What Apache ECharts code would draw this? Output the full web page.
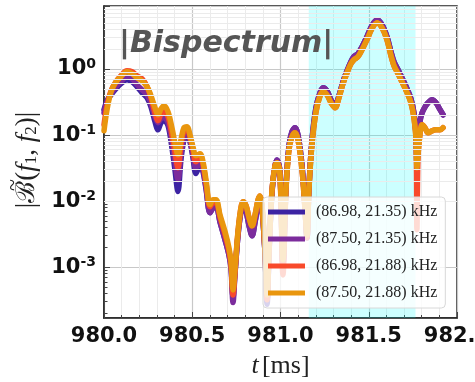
<!DOCTYPE html>
<html><head><meta charset="utf-8">
<script src="https://cdn.jsdelivr.net/npm/echarts@6/dist/echarts.min.js"></script>
<style>html,body{margin:0;padding:0;background:#fff}#c{width:475px;height:382px}</style>
</head><body><div id="c"></div>
<script>
// time axis samples [ms]
const times = [
 980.000, 980.017, 980.040, 980.068, 980.096, 980.130, 980.159, 980.187, 980.215, 980.244,
 980.266, 980.289, 980.306, 980.323, 980.340, 980.363, 980.385, 980.402, 980.419, 980.436,
 980.453, 980.470, 980.487, 980.504, 980.521, 980.544, 980.561, 980.578, 980.601, 980.618,
 980.635, 980.657, 980.686, 980.708, 980.720, 980.731, 980.742, 980.759, 980.776, 980.788,
 980.805, 980.822, 980.839, 980.856, 980.873, 980.884, 980.895, 980.912, 980.924, 980.935,
 980.952, 980.969, 980.980, 980.997, 981.014, 981.031, 981.048, 981.065, 981.082, 981.099,
 981.122, 981.139, 981.150, 981.161, 981.178, 981.201, 981.224, 981.241, 981.263, 981.286,
 981.309, 981.331, 981.354, 981.377, 981.399, 981.416, 981.439, 981.462, 981.490, 981.518,
 981.547, 981.575, 981.603, 981.626, 981.643, 981.666, 981.688, 981.717, 981.739, 981.756,
 981.768, 981.773, 981.779, 981.790, 981.802, 981.819, 981.836, 981.858, 981.881, 981.904,
 981.921
];
// (86.98, 21.35) kHz
const blueVals = [
 0.242, 0.331, 0.408, 0.504, 0.599, 0.688, 0.642, 0.540, 0.438, 0.367,
 0.268, 0.159, 0.120, 0.154, 0.165, 0.139, 0.0642, 0.0298, 0.0140, 0.0421,
 0.0849, 0.101, 0.0792, 0.0454, 0.0262, 0.0343, 0.0278, 0.0154, 0.00664, 0.00793,
 0.00823, 0.00486, 0.00258, 0.00153, 0.000993, 0.000350, 0.000800, 0.00300, 0.00697, 0.00849,
 0.00697, 0.00423, 0.00300, 0.00486, 0.00879, 0.0105, 0.00793, 0.00165, 0.000275, 0.00165,
 0.0139, 0.0343, 0.0421, 0.0278, 0.00110, 0.0160, 0.0689, 0.113, 0.129, 0.101,
 0.0343, 0.00793, 0.00278, 0.0160, 0.0817, 0.259, 0.438, 0.521, 0.469, 0.343,
 0.278, 0.394, 0.642, 0.940, 1.29, 1.54, 1.71, 2.18, 3.09, 4.53,
 5.58, 4.68, 3.09, 1.83, 1.29, 0.975, 0.738, 0.503, 0.355, 0.217,
 0.101, 0.0356, 0.0713, 0.159, 0.217, 0.268, 0.309, 0.343, 0.309, 0.242,
 0.203
];
// (87.50, 21.35) kHz
const purpleVals = [
 0.217, 0.319, 0.422, 0.540, 0.642, 0.764, 0.713, 0.578, 0.486, 0.408,
 0.298, 0.189, 0.154, 0.177, 0.184, 0.154, 0.0792, 0.0396, 0.0210, 0.0503,
 0.0912, 0.105, 0.0849, 0.0503, 0.0320, 0.0380, 0.0298, 0.0160, 0.00664, 0.00793,
 0.00823, 0.00486, 0.00258, 0.00153, 0.000910, 0.000292, 0.000775, 0.00300, 0.00697, 0.00849,
 0.00697, 0.00423, 0.00300, 0.00486, 0.00879, 0.0105, 0.00793, 0.00171, 0.000320, 0.00171,
 0.0139, 0.0343, 0.0421, 0.0278, 0.00110, 0.0160, 0.0689, 0.113, 0.129, 0.101,
 0.0343, 0.00793, 0.00278, 0.0160, 0.0817, 0.259, 0.438, 0.521, 0.469, 0.343,
 0.278, 0.394, 0.642, 0.940, 1.29, 1.54, 1.71, 2.18, 3.09, 4.53,
 5.58, 4.68, 3.09, 1.83, 1.29, 0.975, 0.738, 0.503, 0.355, 0.217,
 0.101, 0.0356, 0.0713, 0.159, 0.217, 0.268, 0.309, 0.343, 0.309, 0.242,
 0.203
];
// (86.98, 21.88) kHz
const redVals = [
 0.143, 0.278, 0.469, 0.642, 0.792, 0.942, 0.910, 0.792, 0.713, 0.540,
 0.367, 0.217, 0.165, 0.210, 0.225, 0.189, 0.101, 0.0560, 0.0320, 0.0713,
 0.116, 0.125, 0.0940, 0.0599, 0.0394, 0.0454, 0.0356, 0.0189, 0.00823, 0.00945,
 0.00945, 0.00580, 0.00308, 0.00176, 0.00110, 0.000380, 0.000851, 0.00332, 0.00793, 0.00977,
 0.00849, 0.00558, 0.00423, 0.00620, 0.0105, 0.0120, 0.00879, 0.00171, 0.000320, 0.00171,
 0.0148, 0.0343, 0.0380, 0.0250, 0.000764, 0.0148, 0.0599, 0.0940, 0.108, 0.0849,
 0.0298, 0.00738, 0.00278, 0.0148, 0.0713, 0.225, 0.394, 0.453, 0.408, 0.309,
 0.259, 0.367, 0.599, 0.879, 1.20, 1.38, 1.54, 1.96, 2.78, 4.08,
 5.03, 4.22, 2.78, 1.59, 1.12, 0.849, 0.642, 0.438, 0.309, 0.183,
 0.0849, 0.00370, 0.0450, 0.101, 0.143, 0.129, 0.108, 0.116, 0.120, 0.120,
 0.129
];
// (87.50, 21.88) kHz
const orangeVals = [
 0.116, 0.242, 0.453, 0.642, 0.764, 0.910, 0.849, 0.738, 0.665, 0.540,
 0.394, 0.259, 0.203, 0.250, 0.278, 0.225, 0.129, 0.0764, 0.0503, 0.0849,
 0.129, 0.134, 0.101, 0.0665, 0.0486, 0.0521, 0.0394, 0.0210, 0.00879, 0.0105,
 0.0105, 0.00620, 0.00343, 0.00196, 0.00120, 0.000453, 0.000910, 0.00343, 0.00793, 0.00977,
 0.00849, 0.00558, 0.00423, 0.00620, 0.0105, 0.0120, 0.00879, 0.00183, 0.000380, 0.00183,
 0.0148, 0.0343, 0.0380, 0.0250, 0.00129, 0.0148, 0.0599, 0.0940, 0.108, 0.0849,
 0.0298, 0.00738, 0.00308, 0.0148, 0.0713, 0.225, 0.394, 0.453, 0.408, 0.309,
 0.259, 0.367, 0.599, 0.879, 1.20, 1.38, 1.54, 1.96, 2.78, 4.08,
 5.03, 4.22, 2.78, 1.59, 1.12, 0.849, 0.642, 0.438, 0.309, 0.183,
 0.0849, 0.0320, 0.0503, 0.101, 0.143, 0.129, 0.108, 0.116, 0.120, 0.120,
 0.129
];
const seriesNames = ['(86.98, 21.35) kHz', '(87.50, 21.35) kHz', '(86.98, 21.88) kHz', '(87.50, 21.88) kHz'];
const seriesValues = [blueVals, purpleVals, redVals, orangeVals];
const seriesColors = ['#3c23a3', '#7c2c9c', '#f84a2b', '#e9960e'];
const shadeRange = [981.16, 981.765];
const xRange = [980.0, 982.0];
const yRange = [1.7e-4, 9.0];
const titleText = '|Bispectrum|';

const minorY = [];
const minorYTicks = [];
for (let k = -4; k <= 0; k++) for (let m = 2; m <= 9; m++) {
  const v = m * Math.pow(10, k);
  if (v > yRange[0] && v < yRange[1]) {
    minorY.push({ yAxis: v });
    minorYTicks.push([{ coord: [xRange[0], v] }, { coord: [xRange[0] + 0.02, v] }]);
  }
}

const chart = echarts.init(document.getElementById('c'), null, { renderer: 'canvas' });
const series = seriesValues.map((vals, i) => ({
  name: seriesNames[i],
  type: 'line',
  data: times.map((t, j) => [t, vals[j]]),
  smooth: 0.35,
  showSymbol: false,
  z: 2,
  lineStyle: { width: 5.5, color: seriesColors[i], cap: 'round', join: 'round' },
  itemStyle: { color: seriesColors[i] },
  animation: false
}));
series.unshift({
  name: 'bg', type: 'line', data: [], z: 1, silent: true, animation: false,
  markLine: { silent: true, symbol: 'none', animation: false, label: { show: false },
    lineStyle: { color: '#ebebeb', type: 'solid', width: 1 }, data: minorY },
  markArea: { silent: true, animation: false, itemStyle: { color: 'rgba(0,255,255,0.2)' },
    data: [[{ xAxis: shadeRange[0] }, { xAxis: shadeRange[1] }]] }
});
series.unshift({
  name: 'ticks', type: 'line', data: [], z: 1, silent: true, animation: false,
  markLine: { silent: true, symbol: 'none', animation: false, label: { show: false },
    lineStyle: { color: '#444', type: 'solid', width: 1 }, data: minorYTicks }
});

chart.setOption({
  animation: false,
  backgroundColor: '#fff',
  title: {
    text: titleText, left: 114, top: 24,
    textStyle: { fontFamily: 'DejaVu Sans', fontWeight: 'bold', fontStyle: 'italic', fontSize: 30, color: '#555' }
  },
  grid: { left: 104, right: 18, top: 6, bottom: 64, show: true, borderColor: '#222', borderWidth: 1.5,
    backgroundColor: 'transparent', outerBoundsMode: 'none', containLabel: false },
  legend: {
    data: seriesNames, orient: 'vertical', left: 263, top: 197, z: 10,
    icon: 'rect', itemWidth: 37, itemHeight: 5, itemGap: 9,
    padding: [6, 8, 6, 5],
    backgroundColor: 'rgba(255,255,255,0.8)', borderColor: '#d8d8d8', borderWidth: 1, borderRadius: 4,
    textStyle: { fontFamily: 'Liberation Serif', fontSize: 16, color: '#222', padding: [0, 0, 0, 6], lineHeight: 18 }
  },
  graphic: [
    { type: 'text', x: 27, y: 160, rotation: Math.PI / 2, z: 10, silent: true,
      style: { text: '{n||}{b|ℬ}{n|(}{i|f}{s|1}{n|, }{i|f}{s|2}{n|)|}', align: 'center', verticalAlign: 'middle',
        rich: {
          n: { fontFamily: 'Liberation Serif', fontSize: 27, fill: '#222' },
          b: { fontFamily: 'DejaVu Serif', fontSize: 26, fill: '#222' },
          i: { fontFamily: 'Liberation Serif', fontStyle: 'italic', fontSize: 27, fill: '#222' },
          s: { fontFamily: 'Liberation Serif', fontSize: 17, fill: '#222', verticalAlign: 'bottom' } } } },
    { type: 'text', x: 13, y: 185, rotation: Math.PI / 2, z: 10, silent: true,
      style: { text: '~', align: 'center', verticalAlign: 'middle', fontFamily: 'Liberation Serif', fontSize: 22, fill: '#222' } }
  ],
  xAxis: {
    type: 'value', min: xRange[0], max: xRange[1], interval: 0.5,
    name: '{i|t} {n|[ms]}', nameLocation: 'middle', nameGap: 35,
    nameTextStyle: { rich: {
      i: { fontFamily: 'Liberation Serif', fontStyle: 'italic', fontSize: 26, color: '#222' },
      n: { fontFamily: 'Liberation Serif', fontSize: 26, color: '#222' } } },
    axisLine: { lineStyle: { color: '#222', width: 1.5 } },
    axisTick: { inside: true, length: 6, lineStyle: { color: '#444' } },
    minorTick: { show: true, splitNumber: 5, length: 3, lineStyle: { color: '#444' } },
    axisLabel: { formatter: v => v.toFixed(1), fontFamily: 'DejaVu Sans', fontWeight: 'bold', fontSize: 21, color: '#111', margin: 8, hideOverlap: false },
    splitLine: { show: true, lineStyle: { color: '#c8c8c8', width: 1.2 } },
    minorSplitLine: { show: true, lineStyle: { color: '#ebebeb', width: 1 } }
  },
  yAxis: {
    type: 'log', logBase: 10, min: yRange[0], max: yRange[1],
    axisLine: { show: true, lineStyle: { color: '#222', width: 1.5 } },
    axisTick: { inside: true, length: 6, lineStyle: { color: '#444' } },
    axisLabel: {
      margin: 8,
      formatter: v => {
        const l = Math.log10(v); const e = Math.round(l);
        if (Math.abs(l - e) > 1e-6) return '';
        return '{b|10}{s|' + e + '}';
      },
      rich: {
        b: { fontFamily: 'DejaVu Sans', fontWeight: 'bold', fontSize: 21, color: '#111', lineHeight: 24 },
        s: { fontFamily: 'DejaVu Sans', fontWeight: 'bold', fontSize: 14, color: '#111', verticalAlign: 'top', lineHeight: 24 }
      }
    },
    splitLine: { show: true, lineStyle: { color: '#c8c8c8', width: 1.2 } }
  },
  series: series
});
</script></body></html>
